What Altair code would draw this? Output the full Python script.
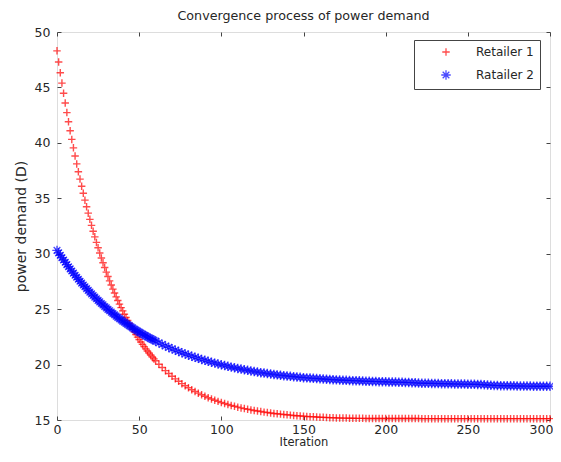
import altair as alt
import pandas as pd

# iteration indices at which values were read (every iteration early, then every 2nd)
iterations = list(range(0, 61)) + list(range(62, 301, 2))

retailer1 = [
    48.30, 47.30, 46.33, 45.39, 44.48, 43.59, 42.73, 41.90, 41.09, 40.31,
    39.55, 38.81, 38.10, 37.40, 36.73, 36.08, 35.45, 34.83, 34.24, 33.66,
    33.10, 32.56, 32.03, 31.52, 31.02, 30.54, 30.07, 29.62, 29.18, 28.76,
    28.34, 27.94, 27.55, 27.18, 26.81, 26.46, 26.11, 25.78, 25.45, 25.14,
    24.84, 24.54, 24.25, 23.98, 23.71, 23.45, 23.19, 22.95, 22.71, 22.48,
    22.25, 22.03, 21.82, 21.62, 21.42, 21.23, 21.04, 20.86, 20.68, 20.51,
    20.35,
    20.03, 19.73, 19.45, 19.19, 18.94, 18.71, 18.49, 18.28, 18.09, 17.91,
    17.73, 17.57, 17.42, 17.28, 17.14, 17.01, 16.90, 16.78, 16.68, 16.58,
    16.49, 16.40, 16.31, 16.24, 16.16, 16.09, 16.03, 15.97, 15.91, 15.86,
    15.81, 15.76, 15.71, 15.67, 15.63, 15.59, 15.56, 15.53, 15.50, 15.47,
    15.44, 15.41, 15.39, 15.37, 15.34, 15.32, 15.30, 15.29, 15.27, 15.25,
    15.24, 15.22, 15.21, 15.20, 15.19, 15.18, 15.17, 15.17, 15.16, 15.16,
    15.15, 15.15, 15.15, 15.14, 15.14, 15.14, 15.13, 15.13, 15.13, 15.13,
    15.13, 15.13, 15.13, 15.13, 15.13, 15.13, 15.13, 15.13, 15.13, 15.13,
    15.12, 15.12, 15.12, 15.12, 15.12, 15.12, 15.12, 15.12, 15.12, 15.12,
    15.12, 15.12, 15.12, 15.12, 15.12, 15.12, 15.12, 15.12, 15.12, 15.12,
    15.12, 15.12, 15.12, 15.12, 15.12, 15.12, 15.12, 15.12, 15.12, 15.12,
    15.12, 15.12, 15.12, 15.12, 15.12, 15.12, 15.12, 15.12, 15.12, 15.12,
]

retailer2 = [
    30.30, 30.08, 29.86, 29.64, 29.43, 29.23, 29.02, 28.82, 28.63, 28.44,
    28.25, 28.06, 27.88, 27.70, 27.52, 27.35, 27.18, 27.02, 26.85, 26.69,
    26.54, 26.38, 26.23, 26.08, 25.94, 25.79, 25.65, 25.51, 25.38, 25.24,
    25.11, 24.98, 24.86, 24.73, 24.61, 24.49, 24.37, 24.26, 24.14, 24.03,
    23.92, 23.82, 23.71, 23.61, 23.51, 23.41, 23.31, 23.21, 23.12, 23.03,
    22.93, 22.85, 22.76, 22.67, 22.59, 22.50, 22.42, 22.34, 22.26, 22.19,
    22.11,
    21.96, 21.82, 21.68, 21.55, 21.42, 21.30, 21.18, 21.07, 20.96, 20.85,
    20.75, 20.65, 20.56, 20.46, 20.38, 20.29, 20.21, 20.13, 20.05, 19.98,
    19.91, 19.84, 19.77, 19.71, 19.65, 19.59, 19.53, 19.48, 19.42, 19.37,
    19.32, 19.27, 19.23, 19.19, 19.15, 19.11, 19.07, 19.03, 19.00, 18.97,
    18.94, 18.91, 18.88, 18.85, 18.82, 18.80, 18.78, 18.76, 18.74, 18.72,
    18.70, 18.68, 18.66, 18.64, 18.62, 18.61, 18.59, 18.58, 18.56, 18.55,
    18.54, 18.53, 18.51, 18.50, 18.49, 18.48, 18.47, 18.46, 18.45, 18.44,
    18.43, 18.42, 18.42, 18.41, 18.40, 18.39, 18.38, 18.37, 18.35, 18.33,
    18.32, 18.31, 18.31, 18.30, 18.29, 18.29, 18.28, 18.27, 18.27, 18.26,
    18.25, 18.25, 18.24, 18.24, 18.23, 18.22, 18.22, 18.21, 18.20, 18.18,
    18.16, 18.14, 18.12, 18.11, 18.10, 18.09, 18.09, 18.08, 18.08, 18.07,
    18.07, 18.06, 18.06, 18.06, 18.05, 18.05, 18.05, 18.05, 18.04, 18.04,
]

assert len(iterations) == len(retailer1) == len(retailer2)

x_ticks = [0, 50, 100, 150, 200, 250, 300]
y_ticks = [15, 20, 25, 30, 35, 40, 45, 50]
series_names = ["Retailer 1", "Ratailer 2"]
series_colors = ["#ff0000", "#0000ff"]
series_sizes = [56, 90]
plus_path = "M-1,0L1,0M0,-1L0,1"
star_path = "M-1,0L1,0M0,-1L0,1M-0.7,-0.7L0.7,0.7M-0.7,0.7L0.7,-0.7"

rows = []
for name, vals in zip(series_names, [retailer1, retailer2]):
    for it, v in zip(iterations, vals):
        rows.append({"Iteration": it, "Demand": v, "Series": name})
df = pd.DataFrame(rows)

FONT = "DejaVu Sans"
AXC = "#444444"
TXT = "#262626"

x_scale = alt.Scale(domain=[0, 300], nice=False, zero=False)
y_scale = alt.Scale(domain=[15, 50], nice=False, zero=False)

base = alt.Chart(df)

points = base.mark_point(filled=False, strokeWidth=1.4).encode(
    x=alt.X("Iteration:Q", scale=x_scale,
            axis=alt.Axis(orient="bottom", values=x_ticks, title="Iteration",
                          domain=False, grid=False, ticks=True, tickSize=4,
                          offset=-4, tickColor=AXC, labelFlush=False,
                          labelOffset={"condition": {"test": "datum.value >= 300", "value": -9},
                                       "value": 0},
                          labelPadding=3, labelFontSize=12.5, labelColor=TXT,
                          labelFont=FONT, titleFont=FONT, titleFontSize=11.5,
                          titleFontWeight="normal", titleColor=TXT,
                          titlePadding=1)),
    y=alt.Y("Demand:Q", scale=y_scale,
            axis=alt.Axis(orient="left", values=y_ticks, title="power demand (D)",
                          domain=False, grid=False, ticks=True, tickSize=4,
                          offset=-4, tickColor=AXC, labelFlush=False,
                          labelPadding=7, labelFontSize=12.5, labelColor=TXT,
                          labelFont=FONT, titleFont=FONT, titleFontSize=14,
                          titleFontWeight="normal", titleColor=TXT,
                          titlePadding=6)),
    color=alt.Color("Series:N",
                    scale=alt.Scale(domain=series_names, range=series_colors),
                    legend=alt.Legend(title=None, orient="none", legendX=357, legendY=8,
                                      fillColor="white", strokeColor=AXC,
                                      padding=6, labelFont=FONT, labelFontSize=12,
                                      labelColor=TXT, symbolStrokeWidth=1.3,
                                      symbolSize=64, rowPadding=8, labelOffset=24,
                                      symbolOffset=20, offset=0)),
    shape=alt.Shape("Series:N",
                    scale=alt.Scale(domain=series_names, range=[plus_path, star_path]),
                    legend=alt.Legend(title=None, orient="none", legendX=357, legendY=8)),
    size=alt.Size("Series:N",
                  scale=alt.Scale(domain=series_names, range=series_sizes),
                  legend=None),
)

frame_axes = base.mark_point(opacity=0).encode(
    x=alt.X("Iteration:Q", scale=x_scale,
            axis=alt.Axis(orient="top", values=x_ticks, title=None, labels=False,
                          domain=False, grid=False, tickSize=4, offset=-4,
                          tickColor=AXC)),
    y=alt.Y("Demand:Q", scale=y_scale,
            axis=alt.Axis(orient="right", values=y_ticks, title=None, labels=False,
                          domain=False, grid=False, tickSize=4, offset=-4,
                          tickColor=AXC)),
)

chart = alt.layer(points, frame_axes).resolve_axis(
    x="independent", y="independent"
).properties(
    width=493,
    height=388,
    autosize=alt.AutoSizeParams(type="none"),
    padding={"left": 49, "top": 24, "right": 3, "bottom": 30},
    title=alt.TitleParams("Convergence process of power demand", font=FONT,
                          fontSize=12.7, fontWeight="normal", color=TXT,
                          offset=3, anchor="middle"),
).configure_view(
    stroke=AXC, strokeWidth=1
).configure(background="white")

chart.save("out.html", embed_options={"renderer": "svg", "actions": False})
